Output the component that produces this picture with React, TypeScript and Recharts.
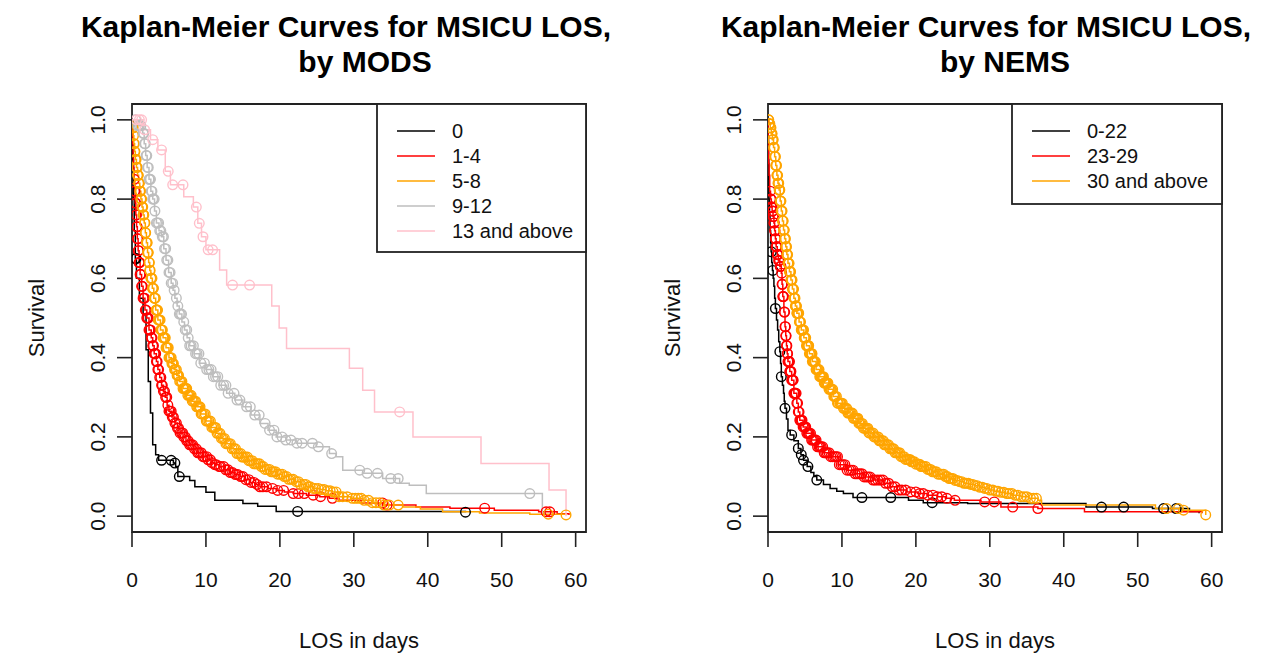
import React from 'react';
import { ComposedChart, Line, Scatter, XAxis, YAxis, ReferenceArea } from 'recharts';

const FONT = '"Liberation Sans", Arial, Helvetica, sans-serif';

// ---------- shared axis data ----------
const xTicks = [0, 10, 20, 30, 40, 50, 60];
const yTicks = [0, 0.2, 0.4, 0.6, 0.8, 1.0];
const xDomain: [number, number] = [0, 61.4];
const yDomain: [number, number] = [-0.04, 1.04];

// ---------- left panel: by MODS ----------
const modsTitle = ['Kaplan-Meier Curves for MSICU LOS,', 'by MODS'];
const modsGroups = ['0', '1-4', '5-8', '9-12', '13 and above'];
const modsColors = ['#000000', '#FF0000', '#FFA500', '#BEBEBE', '#FFC0CB'];

const mods0Time = [0, 0.1, 0.2, 0.3, 0.45, 0.6, 1.0, 1.5, 1.9, 2.2, 2.5, 2.8, 3.2, 3.6, 5.6, 5.9, 6.2, 7.8, 8.5, 10.0, 11.2, 15.0, 17.0, 19.5, 45.1];
const mods0Surv = [1.0, 0.9, 0.8, 0.72, 0.65, 0.6, 0.55, 0.51, 0.42, 0.34, 0.26, 0.18, 0.155, 0.141, 0.134, 0.125, 0.1, 0.09, 0.074, 0.06, 0.04, 0.032, 0.025, 0.012, 0.01];
const mods0Cens = [0.45, 0.55, 4.0, 5.3, 5.8, 6.4, 22.4, 45.1];

const mods14Time = [0, 0.05, 0.1, 0.15, 0.2, 0.27, 0.35, 0.43, 0.52, 0.62, 0.72, 0.83, 0.95, 1.1, 1.3, 1.5, 1.75, 2.0, 2.3, 2.6, 2.8, 3.0, 3.3, 3.5, 3.75, 4.0, 4.25, 4.5, 4.75, 5.0, 5.4, 5.8, 6.15, 6.5, 6.9, 7.3, 7.8, 8.3, 8.9, 9.6, 10.2, 10.7, 11.2, 11.8, 12.5, 13.2, 13.9, 14.6, 15.3, 16.0, 16.6, 17.3, 18.4, 19.5, 20.6, 21.8, 23.6, 25.4, 26.7, 28.0, 31.0, 34.0, 38.4, 43.0, 49.0, 55.0, 57.5, 59.1];
const mods14Surv = [1.0, 0.97, 0.94, 0.91, 0.88, 0.85, 0.82, 0.79, 0.76, 0.73, 0.7, 0.67, 0.64, 0.61, 0.58, 0.55, 0.52, 0.5, 0.47, 0.45, 0.43, 0.41, 0.39, 0.37, 0.35, 0.33, 0.315, 0.3, 0.28, 0.265, 0.25, 0.235, 0.222, 0.21, 0.2, 0.19, 0.18, 0.17, 0.16, 0.15, 0.142, 0.135, 0.13, 0.125, 0.117, 0.11, 0.105, 0.1, 0.092, 0.085, 0.08, 0.074, 0.07, 0.065, 0.061, 0.057, 0.053, 0.049, 0.045, 0.04, 0.033, 0.028, 0.023, 0.02, 0.015, 0.011, 0.006, 0.003];
const mods14Cens = [0.3, 0.4, 0.5, 0.6, 0.7, 0.8, 0.9, 1.0, 1.1, 1.2, 1.4, 1.5, 1.7, 1.9, 2.0, 2.2, 2.4, 2.6, 2.8, 3.0, 3.2, 3.4, 3.6, 3.9, 4.1, 4.4, 4.7, 5.0, 5.3, 5.6, 6.0, 6.3, 6.7, 7.0, 7.4, 7.8, 8.2, 8.7, 9.1, 9.6, 10.1, 10.6, 11.2, 11.8, 12.4, 13.0, 13.6, 14.3, 15.0, 15.8, 16.5, 17.3, 17.7, 19.7, 21.8, 23.3, 27.1, 33.9, 34.5, 47.7, 56.0, 56.5];
const mods14CensMore = [0.35, 0.45, 0.55, 0.65, 0.75, 0.85, 0.95, 1.05, 1.15, 1.3, 1.6, 1.8, 2.1, 2.3, 2.5, 2.7, 2.9, 3.1, 3.3, 3.5, 3.75, 4.0, 4.25, 4.55, 4.85, 5.15, 5.45, 5.8, 6.15, 6.5, 6.85, 7.2, 7.6, 8.0, 8.45, 8.9, 9.35, 9.8, 10.3, 10.8, 11.4, 12.0, 12.7, 13.3, 14.0, 14.7, 15.4, 16.1, 16.9, 18.2, 19.0, 20.5, 22.5, 24.5, 25.5];

const mods58Time = [0, 0.08, 0.16, 0.25, 0.35, 0.45, 0.6, 0.75, 0.9, 1.05, 1.2, 1.35, 1.5, 1.65, 1.8, 1.95, 2.1, 2.25, 2.4, 2.55, 2.75, 2.95, 3.2, 3.5, 3.85, 4.2, 4.6, 5.0, 5.35, 5.7, 6.05, 6.4, 6.9, 7.5, 8.1, 8.7, 9.3, 10.0, 10.7, 11.4, 12.0, 12.7, 13.4, 14.1, 14.9, 15.7, 16.5, 17.3, 18.0, 18.8, 19.6, 20.4, 21.2, 22.0, 22.8, 23.6, 24.5, 25.4, 26.2, 27.1, 28.0, 29.6, 31.2, 32.5, 33.9, 36.6, 39.0, 42.0, 47.0, 53.8, 58.7];
const mods58Surv = [1.0, 0.98, 0.96, 0.94, 0.92, 0.9, 0.88, 0.86, 0.84, 0.82, 0.8, 0.78, 0.76, 0.74, 0.715, 0.69, 0.665, 0.64, 0.62, 0.6, 0.575, 0.55, 0.52, 0.495, 0.47, 0.45, 0.425, 0.4, 0.385, 0.37, 0.355, 0.34, 0.322, 0.305, 0.29, 0.276, 0.258, 0.24, 0.224, 0.209, 0.196, 0.183, 0.17, 0.158, 0.149, 0.14, 0.132, 0.125, 0.118, 0.112, 0.106, 0.1, 0.093, 0.087, 0.08, 0.074, 0.07, 0.067, 0.064, 0.061, 0.049, 0.045, 0.04, 0.034, 0.028, 0.023, 0.018, 0.011, 0.008, 0.005, 0.003];
const mods58Cens = [0.1, 0.15, 0.25, 0.3, 0.4, 0.5, 0.55, 0.65, 0.75, 0.85, 0.95, 1.05, 1.15, 1.25, 1.35, 1.45, 1.55, 1.7, 1.8, 1.95, 2.05, 2.15, 2.3, 2.4, 2.55, 2.65, 2.75, 2.9, 3.05, 3.15, 3.3, 3.45, 3.6, 3.8, 3.95, 4.1, 4.3, 4.5, 4.7, 4.9, 5.0, 5.2, 5.4, 5.6, 5.85, 6.1, 6.3, 6.6, 6.9, 7.2, 7.4, 7.7, 8.0, 8.3, 8.6, 8.9, 9.2, 9.5, 9.9, 10.2, 10.6, 11.0, 11.3, 11.7, 12.1, 12.5, 12.9, 13.3, 13.8, 14.2, 14.7, 15.1, 15.6, 16.0, 16.5, 17.0, 17.5, 18.0, 18.6, 19.1, 19.7, 20.3, 20.9, 21.5, 22.2, 22.8, 23.5, 24.1, 24.8, 25.6, 26.4, 27.2, 28.0, 28.5, 29.1, 29.8, 30.6, 31.4, 32.0, 33.0, 34.1, 34.8, 36.0, 56.3, 58.7];
const mods58CensMore = [0.2, 0.35, 0.45, 0.6, 0.7, 0.8, 0.9, 1.0, 1.1, 1.2, 1.3, 1.4, 1.5, 1.6, 1.75, 1.85, 2.0, 2.1, 2.2, 2.35, 2.45, 2.6, 2.7, 2.85, 3.0, 3.1, 3.25, 3.4, 3.55, 3.7, 3.9, 4.05, 4.2, 4.4, 4.6, 4.8, 5.1, 5.3, 5.5, 5.75, 6.0, 6.2, 6.45, 6.75, 7.05, 7.3, 7.55, 7.85, 8.15, 8.45, 8.75, 9.05, 9.35, 9.7, 10.05, 10.4, 10.8, 11.15, 11.5, 11.9, 12.3, 12.7, 13.1, 13.55, 14.0, 14.45, 14.9, 15.35, 15.8, 16.25, 16.75, 17.25, 17.75, 18.3, 18.85, 19.4, 20.0, 20.6, 21.2, 21.8, 22.5, 23.2, 23.8, 24.5, 25.2, 26.0, 26.8, 27.6, 30.2, 31.0, 32.5, 33.5];

const mods912Time = [0, 0.8, 1.45, 1.65, 1.85, 2.05, 2.3, 2.55, 2.8, 3.05, 3.3, 3.65, 4.0, 4.3, 4.6, 4.95, 5.3, 5.55, 5.8, 6.1, 6.4, 6.75, 7.1, 7.45, 7.8, 8.4, 9.1, 10.0, 10.9, 11.8, 12.8, 13.9, 15.0, 16.1, 17.3, 18.4, 19.5, 20.8, 22.2, 24.9, 26.7, 27.6, 28.5, 31.2, 33.9, 36.2, 37.5, 39.8, 55.5, 56.0];
const mods912Surv = [1.0, 0.985, 0.966, 0.94, 0.91, 0.88, 0.85, 0.82, 0.8, 0.77, 0.74, 0.72, 0.705, 0.675, 0.646, 0.615, 0.588, 0.57, 0.55, 0.53, 0.51, 0.49, 0.47, 0.45, 0.43, 0.41, 0.386, 0.37, 0.352, 0.33, 0.31, 0.293, 0.276, 0.255, 0.234, 0.217, 0.2, 0.192, 0.184, 0.175, 0.158, 0.15, 0.116, 0.108, 0.095, 0.083, 0.078, 0.057, 0.008, 0.008];
const mods912Cens = [0.5, 0.8, 1.0, 1.2, 1.5, 1.7, 1.9, 2.1, 2.3, 2.5, 2.7, 2.9, 3.1, 3.3, 3.6, 3.9, 4.1, 4.4, 4.7, 5.0, 5.3, 5.7, 6.4, 6.7, 7.0, 7.4, 7.8, 8.3, 8.8, 9.3, 9.8, 10.4, 11.0, 11.6, 12.4, 13.0, 13.8, 14.6, 15.5, 16.6, 17.2, 18.6, 19.6, 20.3, 21.5, 22.3, 24.4, 25.2, 27.0, 30.8, 31.8, 33.2, 35.0, 36.0, 53.8];
const mods912CensMore = [1.6, 1.8, 2.0, 2.2, 2.4, 2.6, 2.8, 3.0, 3.45, 3.75, 4.25, 4.55, 4.85, 5.15, 5.5, 6.0, 6.2, 6.55, 7.2, 7.6, 8.0, 8.6, 9.05, 10.1, 10.7, 11.3, 12.0, 12.7, 14.2, 16.0, 18.0, 19.2, 20.8, 23.0];

const mods13Time = [0, 1.5, 2.5, 3.5, 4.5, 5.2, 7.0, 8.3, 8.9, 9.4, 10.0, 11.85, 12.8, 18.9, 19.9, 20.9, 29.4, 31.2, 32.8, 38.0, 47.2, 56.4, 58.7];
const mods13Surv = [1.0, 0.975, 0.95, 0.924, 0.87, 0.836, 0.806, 0.78, 0.739, 0.705, 0.672, 0.621, 0.583, 0.53, 0.475, 0.423, 0.373, 0.318, 0.263, 0.2, 0.133, 0.066, 0.0];
const mods13Cens = [0.6, 1.0, 1.3, 1.7, 2.8, 4.0, 4.9, 5.5, 6.9, 8.7, 9.1, 9.6, 10.3, 10.9, 13.6, 15.9, 36.2];

// ---------- right panel: by NEMS ----------
const nemsTitle = ['Kaplan-Meier Curves for MSICU LOS,', 'by NEMS'];
const nemsGroups = ['0-22', '23-29', '30 and above'];
const nemsColors = ['#000000', '#FF0000', '#FFA500'];

const nemsATime = [0, 0.03, 0.06, 0.1, 0.14, 0.2, 0.27, 0.35, 0.42, 0.5, 0.6, 0.7, 0.8, 0.9, 1.0, 1.15, 1.3, 1.45, 1.6, 1.7, 1.8, 1.95, 2.1, 2.2, 2.3, 2.5, 2.7, 3.0, 3.5, 4.1, 4.45, 4.8, 5.3, 5.8, 6.2, 6.6, 7.5, 8.4, 9.3, 10.2, 11.5, 19.0, 21.0, 27.0, 43.0, 52.0, 57.0, 58.3];
const nemsASurv = [1.0, 0.95, 0.9, 0.85, 0.8, 0.76, 0.72, 0.69, 0.667, 0.64, 0.62, 0.6, 0.58, 0.55, 0.524, 0.495, 0.47, 0.44, 0.415, 0.385, 0.352, 0.33, 0.31, 0.29, 0.272, 0.245, 0.217, 0.205, 0.19, 0.171, 0.155, 0.141, 0.125, 0.11, 0.1, 0.091, 0.08, 0.07, 0.063, 0.057, 0.047, 0.04, 0.034, 0.032, 0.023, 0.019, 0.012, 0.007];
const nemsACens = [0.45, 0.65, 1.0, 1.6, 1.8, 2.3, 3.2, 4.1, 4.5, 4.8, 5.4, 6.6, 12.7, 16.6, 22.2, 45.1, 48.1, 53.5, 55.2];

const nemsBTime = [0, 0.03, 0.06, 0.1, 0.15, 0.23, 0.34, 0.45, 0.56, 0.68, 0.8, 0.9, 1.0, 1.1, 1.25, 1.4, 1.6, 1.8, 1.9, 2.0, 2.15, 2.3, 2.4, 2.5, 2.6, 2.7, 2.95, 3.2, 3.5, 3.9, 4.1, 4.3, 4.75, 5.2, 5.9, 6.6, 7.5, 8.4, 9.5, 10.7, 11.8, 12.9, 14.2, 15.6, 16.5, 17.5, 18.8, 20.2, 21.5, 22.9, 24.0, 25.2, 28.8, 31.5, 36.5, 42.8, 58.7];
const nemsBSurv = [1.0, 0.96, 0.92, 0.89, 0.86, 0.82, 0.8, 0.78, 0.77, 0.756, 0.74, 0.72, 0.7, 0.68, 0.66, 0.645, 0.63, 0.613, 0.585, 0.554, 0.515, 0.478, 0.455, 0.43, 0.41, 0.39, 0.365, 0.343, 0.31, 0.285, 0.263, 0.242, 0.225, 0.209, 0.192, 0.175, 0.16, 0.15, 0.13, 0.116, 0.107, 0.099, 0.091, 0.083, 0.074, 0.066, 0.061, 0.057, 0.053, 0.049, 0.045, 0.04, 0.036, 0.023, 0.019, 0.011, 0.007];
const nemsBCens = [0.3, 0.4, 0.5, 0.6, 0.7, 0.75, 0.85, 0.95, 1.05, 1.15, 1.2, 1.3, 1.45, 1.5, 1.7, 1.85, 1.95, 2.05, 2.1, 2.25, 2.35, 2.45, 2.55, 2.65, 2.8, 2.9, 3.0, 3.1, 3.3, 3.4, 3.6, 3.7, 3.8, 4.0, 4.2, 4.4, 4.6, 4.9, 5.1, 5.4, 5.6, 5.9, 6.2, 6.5, 6.9, 7.2, 7.6, 8.0, 8.5, 9.0, 9.4, 9.9, 10.4, 11.0, 11.5, 12.1, 12.7, 13.3, 13.8, 14.5, 15.2, 15.9, 16.8, 17.7, 18.6, 20.0, 21.0, 22.3, 23.5, 25.3, 29.3, 30.6, 33.1, 36.5];
const nemsBCensMore = [0.35, 0.45, 0.55, 0.65, 0.8, 0.9, 1.0, 1.1, 1.25, 1.35, 1.55, 1.65, 1.75, 1.9, 2.0, 2.2, 2.3, 2.4, 2.5, 2.6, 2.7, 2.85, 2.95, 3.05, 3.2, 3.35, 3.5, 3.65, 3.9, 4.1, 4.3, 4.5, 4.75, 5.0, 5.25, 5.5, 5.75, 6.05, 6.35, 6.7, 7.05, 7.4, 7.8, 8.25, 8.75, 9.2, 9.65, 10.15, 10.7, 11.25, 11.8, 12.4, 13.0, 13.55, 14.2, 14.85, 15.55, 16.3, 17.2, 18.1, 19.3, 20.5, 21.6, 22.9, 24.2];

const nemsCTime = [0, 0.15, 0.3, 0.45, 0.6, 0.75, 0.9, 1.05, 1.2, 1.35, 1.5, 1.65, 1.8, 1.95, 2.1, 2.25, 2.4, 2.55, 2.7, 2.9, 3.1, 3.3, 3.5, 3.7, 3.9, 4.2, 4.5, 4.85, 5.2, 5.6, 6.0, 6.5, 7.0, 7.6, 8.2, 8.8, 9.4, 10.1, 10.8, 11.5, 12.2, 12.9, 13.6, 14.3, 15.0, 15.7, 16.4, 17.1, 17.9, 18.6, 19.3, 20.0, 20.6, 21.4, 22.2, 23.0, 23.8, 24.5, 25.2, 25.9, 26.5, 27.2, 27.9, 28.6, 29.3, 30.0, 30.6, 31.3, 32.0, 33.1, 34.2, 35.3, 36.5, 37.0, 52.4, 56.0, 59.2];
const nemsCSurv = [1.0, 0.99, 0.98, 0.965, 0.95, 0.93, 0.907, 0.885, 0.86, 0.84, 0.823, 0.795, 0.77, 0.745, 0.722, 0.7, 0.68, 0.66, 0.638, 0.617, 0.596, 0.573, 0.55, 0.53, 0.512, 0.49, 0.47, 0.45, 0.43, 0.41, 0.39, 0.37, 0.352, 0.336, 0.32, 0.302, 0.285, 0.272, 0.26, 0.247, 0.234, 0.222, 0.21, 0.2, 0.19, 0.18, 0.17, 0.16, 0.15, 0.143, 0.137, 0.131, 0.125, 0.118, 0.112, 0.106, 0.1, 0.095, 0.09, 0.087, 0.083, 0.08, 0.077, 0.073, 0.07, 0.066, 0.063, 0.06, 0.057, 0.053, 0.049, 0.045, 0.04, 0.028, 0.019, 0.015, 0.003];
const nemsCCens = [0.05, 0.1, 0.2, 0.25, 0.35, 0.4, 0.5, 0.55, 0.65, 0.7, 0.8, 0.85, 0.95, 1.0, 1.1, 1.15, 1.25, 1.3, 1.4, 1.45, 1.55, 1.6, 1.7, 1.75, 1.85, 1.9, 2.0, 2.05, 2.15, 2.2, 2.3, 2.35, 2.45, 2.5, 2.6, 2.65, 2.75, 2.85, 2.95, 3.05, 3.15, 3.25, 3.35, 3.45, 3.55, 3.65, 3.75, 3.85, 3.95, 4.1, 4.25, 4.4, 4.55, 4.7, 4.8, 4.95, 5.1, 5.3, 5.45, 5.6, 5.8, 5.95, 6.1, 6.3, 6.5, 6.7, 6.9, 7.1, 7.3, 7.5, 7.7, 7.9, 8.1, 8.4, 8.6, 8.9, 9.1, 9.4, 9.7, 9.9, 10.2, 10.5, 10.8, 11.1, 11.4, 11.7, 12.0, 12.3, 12.6, 12.9, 13.2, 13.5, 13.8, 14.2, 14.5, 14.9, 15.2, 15.6, 15.9, 16.3, 16.7, 17.0, 17.4, 17.8, 18.2, 18.6, 19.0, 19.4, 19.8, 20.3, 20.7, 21.1, 21.6, 22.0, 22.5, 23.0, 23.5, 24.0, 24.5, 25.0, 25.6, 26.2, 26.8, 27.4, 28.0, 28.6, 29.3, 30.0, 30.8, 31.5, 32.3, 33.0, 33.8, 34.6, 35.5, 36.3, 53.9, 55.5, 56.2, 59.2];
const nemsCCensMore = [0.15, 0.3, 0.45, 0.6, 0.75, 0.9, 1.05, 1.2, 1.35, 1.5, 1.65, 1.8, 1.95, 2.1, 2.25, 2.4, 2.55, 2.7, 2.8, 2.9, 3.0, 3.1, 3.2, 3.3, 3.4, 3.5, 3.6, 3.7, 3.8, 3.9, 4.0, 4.15, 4.3, 4.5, 4.6, 4.75, 4.9, 5.0, 5.2, 5.4, 5.5, 5.7, 5.9, 6.0, 6.2, 6.4, 6.6, 6.8, 7.0, 7.2, 7.4, 7.6, 7.8, 8.0, 8.25, 8.5, 8.75, 9.0, 9.25, 9.5, 9.8, 10.05, 10.35, 10.65, 10.95, 11.25, 11.55, 11.85, 12.15, 12.45, 12.75, 13.05, 13.35, 13.65, 14.0, 14.35, 14.7, 15.05, 15.4, 15.75, 16.1, 16.5, 16.85, 17.2, 17.6, 18.0, 18.4, 18.8, 19.2, 19.6, 20.0, 20.5, 20.9, 21.35, 21.8, 22.25, 22.75, 23.25, 23.75, 24.25, 24.75, 25.3, 25.9, 26.5, 27.1, 27.7, 28.3, 29.0, 29.6, 30.4, 31.1, 31.9, 32.6, 33.4, 34.2, 35.0, 35.9];

// ---------- helpers ----------
type Pt = { x: number; y: number };
const toSteps = (t: number[], s: number[]): Pt[] => t.map((x, i) => ({ x, y: s[i] }));
const survAt = (t: number[], s: number[], c: number): number => {
  let v = s[0];
  for (let i = 0; i < t.length; i++) {
    if (t[i] <= c) v = s[i];
    else break;
  }
  return v;
};
const toCensor = (t: number[], s: number[], cens: number[]): Pt[] =>
  cens.map((c) => ({ x: c, y: survAt(t, s, c) }));

type Series = { name: string; color: string; steps: Pt[]; cens: Pt[] };

const modsSeries: Series[] = [
  [mods0Time, mods0Surv, mods0Cens],
  [mods14Time, mods14Surv, mods14Cens.concat(mods14CensMore)],
  [mods58Time, mods58Surv, mods58Cens.concat(mods58CensMore)],
  [mods912Time, mods912Surv, mods912Cens.concat(mods912CensMore)],
  [mods13Time, mods13Surv, mods13Cens],
].map(([t, s, c], i) => ({ name: modsGroups[i], color: modsColors[i], steps: toSteps(t, s), cens: toCensor(t, s, c) }));

const nemsSeries: Series[] = [
  [nemsATime, nemsASurv, nemsACens],
  [nemsBTime, nemsBSurv, nemsBCens.concat(nemsBCensMore)],
  [nemsCTime, nemsCSurv, nemsCCens.concat(nemsCCensMore)],
].map(([t, s, c], i) => ({ name: nemsGroups[i], color: nemsColors[i], steps: toSteps(t, s), cens: toCensor(t, s, c) }));

// ---------- layout ----------
const CH = 662;
const PLOT_TOP = 104;
const PLOT_BOTTOM = 532;
const AXIS_INK = '#222';
const TICK_FS = 21;
const LAB_FS = 22;

const XTick = (props: any) => {
  const { x, payload } = props;
  return (
    <text x={x} y={587} textAnchor="middle" fontSize={TICK_FS} fontFamily={FONT} fill="#111">
      {payload.value}
    </text>
  );
};

const makeYTick = (lx: number) => (props: any) => {
  const { y, payload } = props;
  return (
    <text
      transform={`translate(${lx},${y}) rotate(-90)`}
      textAnchor="middle"
      fontSize={TICK_FS}
      fontFamily={FONT}
      fill="#111"
    >
      {Number(payload.value).toFixed(1)}
    </text>
  );
};

const CircleMark = (color: string) => (props: any) => {
  const { cx, cy } = props;
  if (cx == null || cy == null) return <g />;
  return <circle cx={cx} cy={cy} r={4.8} fill="none" stroke={color} strokeWidth={1.4} />;
};

type PanelProps = {
  left: number;
  width: number;
  plotLeft: number;
  plotRight: number;
  series: Series[];
};

const Panel = ({ left, width, plotLeft, plotRight, series }: PanelProps) => {
  const yAxisW = 60;
  const xAxisH = 60;
  const margin = {
    top: PLOT_TOP,
    bottom: CH - PLOT_BOTTOM - xAxisH,
    left: plotLeft - yAxisW,
    right: width - plotRight,
  };
  const YTick = makeYTick(plotLeft - 27);
  return (
    <div style={{ position: 'absolute', left, top: 0, width, height: CH }}>
      <ComposedChart width={width} height={CH} margin={margin}>
        <XAxis
          type="number"
          dataKey="x"
          domain={xDomain}
          ticks={xTicks}
          allowDataOverflow
          axisLine={false}
          tickSize={15}
          tickLine={{ stroke: AXIS_INK, strokeWidth: 1.6 }}
          tick={<XTick />}
          height={xAxisH}
          interval={0}
        />
        <YAxis
          type="number"
          domain={yDomain}
          ticks={yTicks}
          allowDataOverflow
          axisLine={false}
          tickSize={15}
          tickLine={{ stroke: AXIS_INK, strokeWidth: 1.6 }}
          tick={<YTick />}
          width={yAxisW}
          interval={0}
        />
        {series.map((s) => (
          <Line
            key={'l' + s.name}
            data={s.steps}
            dataKey="y"
            type="stepAfter"
            stroke={s.color}
            strokeWidth={1.5}
            dot={false}
            activeDot={false}
            isAnimationActive={false}
            legendType="none"
          />
        ))}
        {series.map((s) => (
          <Scatter
            key={'c' + s.name}
            data={s.cens}
            dataKey="y"
            shape={CircleMark(s.color)}
            isAnimationActive={false}
            legendType="none"
          />
        ))}
        <ReferenceArea
          x1={xDomain[0]}
          x2={xDomain[1]}
          y1={yDomain[0]}
          y2={yDomain[1]}
          fill="none"
          fillOpacity={0}
          stroke={AXIS_INK}
          strokeWidth={1.8}
          ifOverflow="visible"
        />
      </ComposedChart>
    </div>
  );
};

type LegendProps = { x: number; y: number; w: number; h: number; names: string[]; colors: string[] };
const LegendBox = ({ x, y, w, h, names, colors }: LegendProps) => (
  <g>
    <rect x={x} y={y} width={w} height={h} fill="#fff" stroke={AXIS_INK} strokeWidth={1.8} />
    {names.map((n, i) => {
      const cy = y + 27 + i * 25;
      return (
        <g key={n}>
          <line x1={x + 20} x2={x + 58} y1={cy} y2={cy} stroke={colors[i]} strokeWidth={1.6} />
          <text x={x + 75} y={cy + 7} fontSize={20} fontFamily={FONT} fill="#111">
            {n}
          </text>
        </g>
      );
    })}
  </g>
);

const Titles = ({ cx, lines }: { cx: number; lines: string[] }) => (
  <g>
    <text x={cx} y={37} textAnchor="middle" fontSize={30} fontWeight="bold" fontFamily={FONT} fill="#000">
      {lines[0]}
    </text>
    <text x={cx + 19} y={72} textAnchor="middle" fontSize={30} fontWeight="bold" fontFamily={FONT} fill="#000">
      {lines[1]}
    </text>
  </g>
);

export default function App() {
  return (
    <div style={{ position: 'absolute', left: 0, top: 0, width: 1281, height: CH, background: '#fff', overflow: 'hidden' }}>
      <Panel left={0} width={640} plotLeft={132} plotRight={586} series={modsSeries} />
      <Panel left={640} width={641} plotLeft={128} plotRight={582} series={nemsSeries} />
      <svg width={1281} height={CH} style={{ position: 'absolute', left: 0, top: 0, pointerEvents: 'none' }}>
        <Titles cx={346} lines={modsTitle} />
        <Titles cx={986} lines={nemsTitle} />
        <text transform="translate(44,318) rotate(-90)" textAnchor="middle" fontSize={LAB_FS} fontFamily={FONT} fill="#111">
          Survival
        </text>
        <text transform="translate(680,318) rotate(-90)" textAnchor="middle" fontSize={LAB_FS} fontFamily={FONT} fill="#111">
          Survival
        </text>
        <text x={359} y={648} textAnchor="middle" fontSize={LAB_FS} fontFamily={FONT} fill="#111">
          LOS in days
        </text>
        <text x={995} y={648} textAnchor="middle" fontSize={LAB_FS} fontFamily={FONT} fill="#111">
          LOS in days
        </text>
        <LegendBox x={377} y={104} w={209} h={148} names={modsGroups} colors={modsColors} />
        <LegendBox x={1012} y={104} w={210} h={100} names={nemsGroups} colors={nemsColors} />
      </svg>
    </div>
  );
}
